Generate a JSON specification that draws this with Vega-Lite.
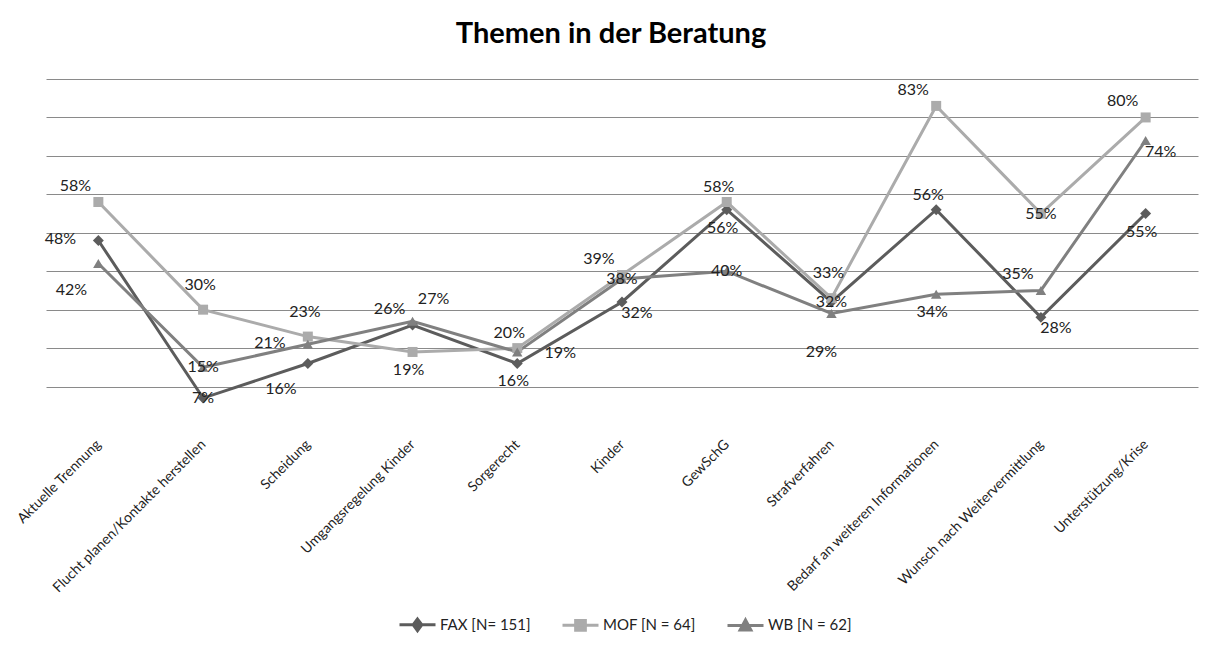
{
  "$schema": "https://vega.github.io/schema/vega-lite/v6.json",
  "width": 1152,
  "height": 346,
  "autosize": {"type": "none"},
  "padding": {"left": 46, "top": 79, "right": 14, "bottom": 221},
  "background": "white",
  "title": {"text": "Themen in der Beratung", "font": "Lato", "fontSize": 29, "fontWeight": "bold", "color": "#000000", "anchor": "middle", "dx": -11, "offset": 7, "baseline": "alphabetic"},
  "config": {"view": {"stroke": null}},
  "data": {"values": [
    {"thema": "Aktuelle Trennung", "gruppe": "FAX [N= 151]", "anteil": 0.48},
    {"thema": "Aktuelle Trennung", "gruppe": "MOF [N = 64]", "anteil": 0.58},
    {"thema": "Aktuelle Trennung", "gruppe": "WB [N = 62]", "anteil": 0.42},
    {"thema": "Flucht planen/Kontakte herstellen", "gruppe": "FAX [N= 151]", "anteil": 0.07},
    {"thema": "Flucht planen/Kontakte herstellen", "gruppe": "MOF [N = 64]", "anteil": 0.30},
    {"thema": "Flucht planen/Kontakte herstellen", "gruppe": "WB [N = 62]", "anteil": 0.15},
    {"thema": "Scheidung", "gruppe": "FAX [N= 151]", "anteil": 0.16},
    {"thema": "Scheidung", "gruppe": "MOF [N = 64]", "anteil": 0.23},
    {"thema": "Scheidung", "gruppe": "WB [N = 62]", "anteil": 0.21},
    {"thema": "Umgangsregelung Kinder", "gruppe": "FAX [N= 151]", "anteil": 0.26},
    {"thema": "Umgangsregelung Kinder", "gruppe": "MOF [N = 64]", "anteil": 0.19},
    {"thema": "Umgangsregelung Kinder", "gruppe": "WB [N = 62]", "anteil": 0.27},
    {"thema": "Sorgerecht", "gruppe": "FAX [N= 151]", "anteil": 0.16},
    {"thema": "Sorgerecht", "gruppe": "MOF [N = 64]", "anteil": 0.20},
    {"thema": "Sorgerecht", "gruppe": "WB [N = 62]", "anteil": 0.19},
    {"thema": "Kinder", "gruppe": "FAX [N= 151]", "anteil": 0.32},
    {"thema": "Kinder", "gruppe": "MOF [N = 64]", "anteil": 0.39},
    {"thema": "Kinder", "gruppe": "WB [N = 62]", "anteil": 0.38},
    {"thema": "GewSchG", "gruppe": "FAX [N= 151]", "anteil": 0.56},
    {"thema": "GewSchG", "gruppe": "MOF [N = 64]", "anteil": 0.58},
    {"thema": "GewSchG", "gruppe": "WB [N = 62]", "anteil": 0.40},
    {"thema": "Strafverfahren", "gruppe": "FAX [N= 151]", "anteil": 0.32},
    {"thema": "Strafverfahren", "gruppe": "MOF [N = 64]", "anteil": 0.33},
    {"thema": "Strafverfahren", "gruppe": "WB [N = 62]", "anteil": 0.29},
    {"thema": "Bedarf an weiteren Informationen", "gruppe": "FAX [N= 151]", "anteil": 0.56},
    {"thema": "Bedarf an weiteren Informationen", "gruppe": "MOF [N = 64]", "anteil": 0.83},
    {"thema": "Bedarf an weiteren Informationen", "gruppe": "WB [N = 62]", "anteil": 0.34},
    {"thema": "Wunsch nach Weitervermittlung", "gruppe": "FAX [N= 151]", "anteil": 0.28},
    {"thema": "Wunsch nach Weitervermittlung", "gruppe": "MOF [N = 64]", "anteil": 0.55},
    {"thema": "Wunsch nach Weitervermittlung", "gruppe": "WB [N = 62]", "anteil": 0.35},
    {"thema": "Unterstützung/Krise", "gruppe": "FAX [N= 151]", "anteil": 0.55},
    {"thema": "Unterstützung/Krise", "gruppe": "MOF [N = 64]", "anteil": 0.80},
    {"thema": "Unterstützung/Krise", "gruppe": "WB [N = 62]", "anteil": 0.74}
  ]},
  "encoding": {
    "x": {"field": "thema", "type": "ordinal", "sort": null, "scale": {"type": "point", "padding": 0.5},
      "axis": {"title": null, "labelAngle": -45, "labelAlign": "right", "labelBaseline": "middle", "labelFont": "Lato", "labelFontSize": 14, "labelColor": "#222222", "ticks": false, "domain": false, "grid": false, "labelPadding": 17, "labelOverlap": false, "labelLimit": 400}},
    "y": {"field": "anteil", "type": "quantitative", "scale": {"domain": [0, 0.9], "nice": false},
      "axis": {"title": null, "labels": false, "ticks": false, "domain": false, "grid": true, "values": [0.1, 0.2, 0.3, 0.4, 0.5, 0.6, 0.7, 0.8, 0.9], "gridColor": "#8a8a8a", "gridWidth": 1}},
    "color": {"field": "gruppe", "type": "nominal",
      "scale": {"domain": ["FAX [N= 151]", "MOF [N = 64]", "WB [N = 62]"], "range": ["#5c5c5c", "#ababab", "#808080"]},
      "legend": {"title": null, "orient": "none", "legendX": 352, "legendY": 526, "direction": "horizontal", "labelFont": "Lato", "labelFontSize": 15, "labelColor": "#222222", "symbolSize": 1296, "columnPadding": 25, "labelOffset": 3,
        "encode": {"symbols": {"update": {
          "shape": {"signal": "datum.value === 'FAX [N= 151]' ? 'M-1,0H1M0,-0.32L0.24,0L0,0.32L-0.24,0Z' : datum.value === 'MOF [N = 64]' ? 'M-1,0H1M-0.27,-0.27H0.27V0.27H-0.27Z' : 'M-1,0H1M0,-0.3L0.3,0.26H-0.3Z'"},
          "fill": {"scale": "color", "field": "value"},
          "stroke": {"scale": "color", "field": "value"},
          "strokeWidth": {"value": 3},
          "opacity": {"value": 1}
        }}}}}
  },
  "layer": [
    {"mark": {"type": "line", "strokeWidth": 3}},
    {"transform": [{"filter": "datum.gruppe === 'FAX [N= 151]'"}],
     "mark": {"type": "point", "filled": true, "opacity": 1, "size": 120, "shape": "diamond"}},
    {"transform": [{"filter": "datum.gruppe === 'MOF [N = 64]'"}],
     "mark": {"type": "point", "filled": true, "opacity": 1, "size": 100, "shape": "square"}},
    {"transform": [{"filter": "datum.gruppe === 'WB [N = 62]'"}],
     "mark": {"type": "point", "filled": true, "opacity": 1, "size": 110, "shape": "triangle-up"}},
    {"transform": [{"filter": "indexof(['FAX|Flucht planen/Kontakte herstellen','WB|Flucht planen/Kontakte herstellen','WB|Kinder','WB|GewSchG','FAX|Strafverfahren','MOF|Wunsch nach Weitervermittlung'], split(datum.gruppe,' ')[0] + '|' + datum.thema) >= 0"}],
     "mark": {"type": "text", "font": "Lato", "fontSize": 16, "align": "center", "baseline": "middle", "dx": 0, "dy": 0},
     "encoding": {"text": {"field": "anteil", "type": "quantitative", "format": ".0%"}, "color": {"value": "#222222"}}},
    {"transform": [{"filter": "indexof(['MOF|Flucht planen/Kontakte herstellen','MOF|Scheidung','MOF|Strafverfahren'], split(datum.gruppe,' ')[0] + '|' + datum.thema) >= 0"}],
     "mark": {"type": "text", "font": "Lato", "fontSize": 16, "align": "center", "baseline": "middle", "dx": -3, "dy": -25},
     "encoding": {"text": {"field": "anteil", "type": "quantitative", "format": ".0%"}, "color": {"value": "#222222"}}},
    {"transform": [{"filter": "indexof(['MOF|Sorgerecht','MOF|GewSchG','FAX|Bedarf an weiteren Informationen'], split(datum.gruppe,' ')[0] + '|' + datum.thema) >= 0"}],
     "mark": {"type": "text", "font": "Lato", "fontSize": 16, "align": "center", "baseline": "middle", "dx": -8, "dy": -15},
     "encoding": {"text": {"field": "anteil", "type": "quantitative", "format": ".0%"}, "color": {"value": "#222222"}}},
    {"transform": [{"filter": "indexof(['MOF|Aktuelle Trennung','FAX|Umgangsregelung Kinder','MOF|Kinder','MOF|Bedarf an weiteren Informationen','WB|Wunsch nach Weitervermittlung','MOF|Unterstützung/Krise'], split(datum.gruppe,' ')[0] + '|' + datum.thema) >= 0"}],
     "mark": {"type": "text", "font": "Lato", "fontSize": 16, "align": "center", "baseline": "middle", "dx": -23, "dy": -16},
     "encoding": {"text": {"field": "anteil", "type": "quantitative", "format": ".0%"}, "color": {"value": "#222222"}}},
    {"transform": [{"filter": "indexof(['WB|Umgangsregelung Kinder'], split(datum.gruppe,' ')[0] + '|' + datum.thema) >= 0"}],
     "mark": {"type": "text", "font": "Lato", "fontSize": 16, "align": "center", "baseline": "middle", "dx": 21, "dy": -22},
     "encoding": {"text": {"field": "anteil", "type": "quantitative", "format": ".0%"}, "color": {"value": "#222222"}}},
    {"transform": [{"filter": "indexof(['FAX|Aktuelle Trennung','WB|Scheidung'], split(datum.gruppe,' ')[0] + '|' + datum.thema) >= 0"}],
     "mark": {"type": "text", "font": "Lato", "fontSize": 16, "align": "center", "baseline": "middle", "dx": -38, "dy": -1},
     "encoding": {"text": {"field": "anteil", "type": "quantitative", "format": ".0%"}, "color": {"value": "#222222"}}},
    {"transform": [{"filter": "indexof(['WB|Aktuelle Trennung','FAX|Scheidung'], split(datum.gruppe,' ')[0] + '|' + datum.thema) >= 0"}],
     "mark": {"type": "text", "font": "Lato", "fontSize": 16, "align": "center", "baseline": "middle", "dx": -27, "dy": 26},
     "encoding": {"text": {"field": "anteil", "type": "quantitative", "format": ".0%"}, "color": {"value": "#222222"}}},
    {"transform": [{"filter": "indexof(['MOF|Umgangsregelung Kinder','FAX|Sorgerecht','FAX|GewSchG','WB|Bedarf an weiteren Informationen','FAX|Unterstützung/Krise'], split(datum.gruppe,' ')[0] + '|' + datum.thema) >= 0"}],
     "mark": {"type": "text", "font": "Lato", "fontSize": 16, "align": "center", "baseline": "middle", "dx": -4, "dy": 18},
     "encoding": {"text": {"field": "anteil", "type": "quantitative", "format": ".0%"}, "color": {"value": "#222222"}}},
    {"transform": [{"filter": "indexof(['WB|Strafverfahren'], split(datum.gruppe,' ')[0] + '|' + datum.thema) >= 0"}],
     "mark": {"type": "text", "font": "Lato", "fontSize": 16, "align": "center", "baseline": "middle", "dx": -10, "dy": 38},
     "encoding": {"text": {"field": "anteil", "type": "quantitative", "format": ".0%"}, "color": {"value": "#222222"}}},
    {"transform": [{"filter": "indexof(['FAX|Kinder','FAX|Wunsch nach Weitervermittlung','WB|Unterstützung/Krise'], split(datum.gruppe,' ')[0] + '|' + datum.thema) >= 0"}],
     "mark": {"type": "text", "font": "Lato", "fontSize": 16, "align": "center", "baseline": "middle", "dx": 15, "dy": 11},
     "encoding": {"text": {"field": "anteil", "type": "quantitative", "format": ".0%"}, "color": {"value": "#222222"}}},
    {"transform": [{"filter": "indexof(['WB|Sorgerecht'], split(datum.gruppe,' ')[0] + '|' + datum.thema) >= 0"}],
     "mark": {"type": "text", "font": "Lato", "fontSize": 16, "align": "center", "baseline": "middle", "dx": 43, "dy": 1},
     "encoding": {"text": {"field": "anteil", "type": "quantitative", "format": ".0%"}, "color": {"value": "#222222"}}}
  ]
}
